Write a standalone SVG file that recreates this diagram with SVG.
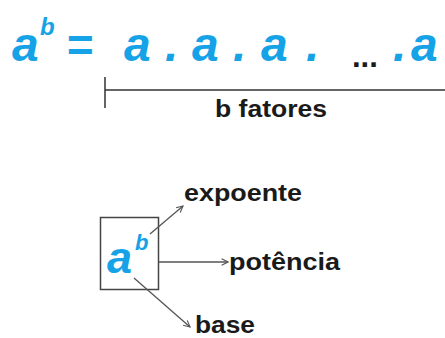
<svg xmlns="http://www.w3.org/2000/svg" width="445" height="338" viewBox="0 0 445 338">
  <defs>
    <style>
      .blue { fill: #16a2e6; font-family: "Liberation Sans", Arial, sans-serif; font-weight: bold; font-style: italic; }
      .lbl { fill: #1a1a1a; font-family: "Liberation Sans", Arial, sans-serif; font-weight: bold; font-size: 23px; }
      .line { stroke: #333; stroke-width: 1.5; fill: none; }
      .arrow { stroke: #555; stroke-width: 1.3; fill: none; marker-end: url(#head); }
    </style>
    <marker id="head" viewBox="0 0 10 10" refX="9" refY="5" markerWidth="8" markerHeight="8" markerUnits="userSpaceOnUse" orient="auto">
      <path d="M1,1 L9,5 L1,9" fill="none" stroke="#555" stroke-width="1.4"/>
    </marker>
  </defs>
  <rect width="445" height="338" fill="#fff"/>

  <!-- formula: a^b = a . a . a . ... . a -->
  <g id="formula">
    <text class="blue" x="12" y="61" font-size="48">a</text>
    <text class="blue" x="40" y="35" font-size="24">b</text>
    <text class="blue" x="66" y="61" font-size="46" font-style="normal">=</text>
    <text class="blue" x="124" y="61" font-size="48">a</text>
    <text class="blue" x="165" y="61" font-size="48">.</text>
    <text class="blue" x="192" y="61" font-size="48">a</text>
    <text class="blue" x="233" y="61" font-size="48">.</text>
    <text class="blue" x="261" y="61" font-size="48">a</text>
    <text class="blue" x="306" y="61" font-size="48">.</text>
    <text x="352" y="67" font-family="Liberation Sans, Arial, sans-serif" font-weight="bold" font-size="31" fill="#1a1a1a">...</text>
    <text class="blue" x="393" y="61" font-size="48">.</text>
    <text class="blue" x="411" y="61" font-size="48">a</text>
  </g>

  <!-- span marking the factor count -->
  <g id="factor-span">
    <path class="line" d="M105,77 V108 M105,90 H445"/>
    <text class="lbl" x="215" y="117" textLength="112" lengthAdjust="spacingAndGlyphs">b fatores</text>
  </g>

  <!-- boxed power with its parts -->
  <g id="power-box">
    <rect x="100.5" y="217.5" width="58" height="72" fill="#fff" stroke="#444" stroke-width="1.5"/>
    <text class="blue" x="107" y="273" font-size="45">a</text>
    <text class="blue" x="135" y="250" font-size="22">b</text>
  </g>

  <g id="connectors">
    <path class="arrow" d="M150,234 L183,206"/>
    <path class="arrow" d="M159,262 L228,262"/>
    <path class="arrow" d="M134,278 L190,327"/>
  </g>

  <g id="label-expoente">
    <text class="lbl" x="184" y="201" textLength="118" lengthAdjust="spacingAndGlyphs">expoente</text>
  </g>
  <g id="label-potencia">
    <text class="lbl" x="229" y="270" textLength="111" lengthAdjust="spacingAndGlyphs">potência</text>
  </g>
  <g id="label-base">
    <text class="lbl" x="195" y="333" textLength="60" lengthAdjust="spacingAndGlyphs">base</text>
  </g>
</svg>
